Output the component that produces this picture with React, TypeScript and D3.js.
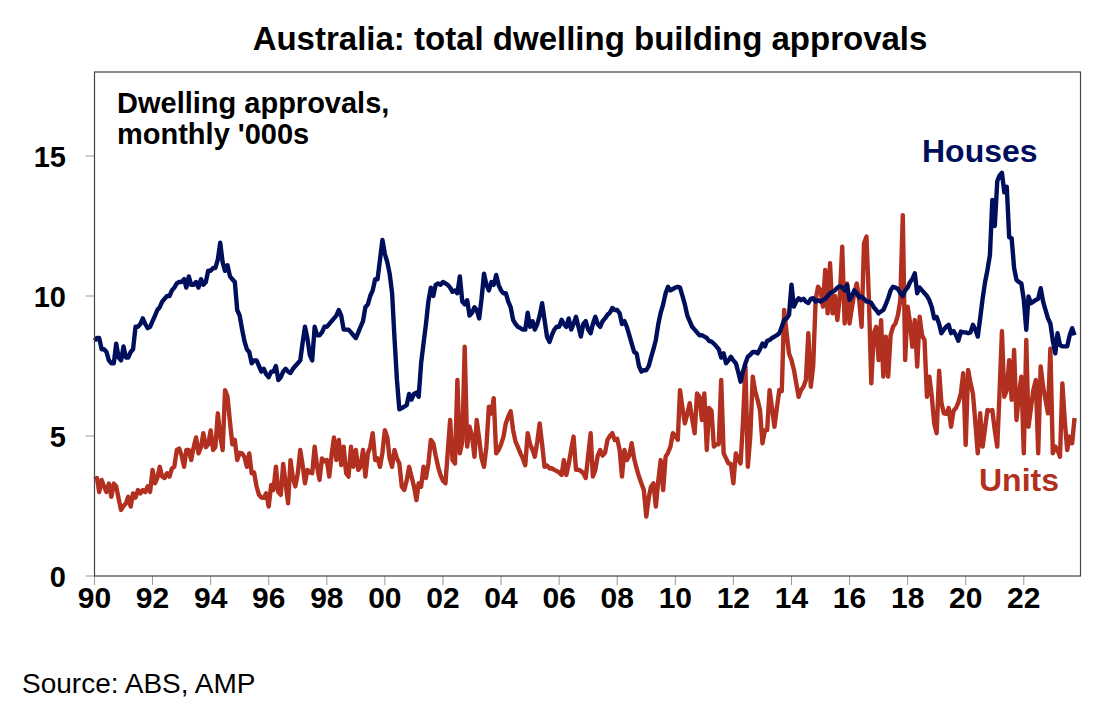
import { useEffect, useRef } from "react";
import * as d3 from "d3";

// monthly, from Jan 1990, '000s
const houses = [
  8.4, 8.5, 8.5, 8.1, 8.1, 8.0, 7.7, 7.6, 7.6, 8.3, 7.8, 7.7,
  8.2, 7.8, 7.8, 8.0, 8.1, 8.9, 8.9, 9.0, 9.2, 9.0, 8.85, 8.9,
  9.1, 9.3, 9.5, 9.6, 9.8, 9.9, 10.0, 10.0, 10.2, 10.3, 10.45, 10.5,
  10.5, 10.6, 10.3, 10.7, 10.4, 10.4, 10.5, 10.3, 10.6, 10.4, 10.5, 10.9,
  10.9, 11.0, 11.0, 11.3, 11.9, 11.2, 10.9, 11.1, 10.7, 10.6, 10.5, 9.5,
  9.3, 8.8, 8.4, 8.1, 8.0, 7.6, 7.7, 7.7, 7.5, 7.3, 7.4, 7.2,
  7.1, 7.3, 7.3, 7.5, 7.0, 7.1, 7.3, 7.4, 7.3, 7.25, 7.4, 7.5,
  7.6, 7.7, 8.3, 8.9, 8.5, 7.9, 7.7, 8.9, 8.6, 8.6, 8.7, 8.9,
  8.9, 9.0, 9.1, 9.2, 9.3, 9.5, 9.3, 8.8, 8.8, 8.8, 8.7, 8.6,
  8.5, 8.7, 8.9, 9.1, 9.6, 9.7, 10.0, 10.2, 10.6, 10.6, 11.3, 12.0,
  11.5, 11.2, 10.8, 10.1, 8.5, 7.0, 5.95, 6.0, 6.05, 6.1, 6.5, 6.3,
  6.5, 6.55, 6.4, 7.6, 8.3, 9.0, 9.8, 10.3, 10.0, 10.4, 10.45, 10.4,
  10.5, 10.45, 10.4, 10.3, 10.15, 10.2, 10.1, 10.7, 9.8, 9.7, 9.85, 9.3,
  9.4, 9.6, 9.5, 9.2, 9.9, 10.8, 10.4, 10.2, 10.5, 10.4, 10.75, 10.4,
  10.2, 10.1, 10.1, 9.8, 9.6, 9.15, 9.0, 8.9, 8.85, 8.8, 8.8, 9.4,
  8.9, 9.1, 8.8, 9.0, 9.3, 9.74, 9.15, 8.55, 8.36, 8.6, 8.8, 8.9,
  8.9, 9.15, 9.0, 8.9, 9.2, 8.8, 9.0, 9.26, 8.9, 8.55, 9.0, 9.1,
  8.8, 8.67, 9.0, 9.26, 9.0, 8.9, 9.1, 9.2, 9.33, 9.4, 9.57, 9.5,
  9.5, 9.38, 9.0, 9.1, 8.9, 8.6, 8.31, 8.0, 7.95, 7.5, 7.3, 7.35,
  7.35, 7.5, 7.8, 8.1, 8.43, 9.0, 9.4, 9.7, 10.1, 10.33, 10.2, 10.25,
  10.3, 10.33, 10.3, 10.0, 9.7, 9.3, 9.1, 8.9, 8.8, 8.7, 8.6, 8.6,
  8.55, 8.5, 8.4, 8.37, 8.3, 8.2, 8.1, 7.8, 7.95, 7.6, 7.7, 7.83,
  7.7, 7.6, 7.3, 6.94, 7.3, 7.6, 7.83, 7.9, 8.0, 8.0, 7.95, 8.1,
  8.3, 8.2, 8.4, 8.43, 8.5, 8.55, 8.6, 8.67, 8.9, 9.14, 9.2, 9.32,
  10.4, 9.62, 9.8, 9.92, 9.85, 9.9, 9.8, 9.75, 9.9, 9.92, 9.8, 9.85,
  9.8, 9.85, 9.9, 10.0, 10.1, 10.15, 10.2, 10.3, 10.35, 10.3, 10.2, 10.39,
  9.86, 10.0, 10.2, 10.1, 9.95, 9.98, 9.9, 9.8, 9.8, 9.75, 9.6, 9.5,
  9.38, 9.45, 9.5, 9.7, 9.92, 10.2, 10.33, 10.3, 10.25, 10.1, 10.0, 10.2,
  10.3, 10.5, 10.6, 10.81, 10.1, 10.3, 10.2, 10.1, 10.0, 9.85, 9.6, 9.2,
  9.25, 9.0, 8.67, 8.8, 8.9, 8.97, 8.67, 8.75, 8.6, 8.4, 8.73, 8.7,
  8.7, 8.67, 8.7, 8.97, 8.8, 8.55, 9.2, 9.9, 10.5, 10.93, 11.47, 13.43,
  12.5, 14.1, 14.3, 14.4, 13.7, 13.9, 12.1, 12.06, 11.0, 10.57, 10.5, 10.45,
  9.86, 8.79, 9.98, 9.74, 9.8, 9.86, 9.9, 10.28, 9.8, 9.5, 9.2, 9.02,
  8.4, 7.95, 8.67, 8.25, 8.2, 8.2, 8.2, 8.6, 8.85, 8.6,
];

const units = [
  3.45, 3.5, 3.0, 3.43, 3.2, 3.0, 3.3, 2.83, 3.3, 3.2, 2.75, 2.36,
  2.5, 2.6, 2.83, 2.48, 2.95, 2.8, 3.07, 2.95, 3.07, 3.0, 3.2, 3.0,
  3.79, 3.31, 3.5, 3.9, 3.55, 3.5, 3.67, 3.55, 3.84, 3.9, 4.5, 4.55,
  4.3, 3.9, 4.5, 4.5, 4.14, 4.6, 4.95, 4.38, 4.6, 5.1, 4.6, 4.7,
  5.2, 4.5, 4.6, 5.81, 5.0, 4.5, 6.64, 6.4, 5.5, 4.7, 4.86, 4.14,
  4.4, 4.38, 4.26, 3.9, 4.38, 3.67, 3.7, 3.2, 2.9, 2.8, 2.79, 2.95,
  2.48, 3.25, 3.07, 3.9, 3.0, 2.9, 4.0, 3.3, 2.6, 4.14, 3.5, 3.2,
  3.67, 4.5, 4.0, 3.31, 3.79, 3.7, 3.67, 4.62, 3.9, 3.43, 4.2, 4.1,
  4.14, 3.55, 4.3, 4.95, 4.14, 4.86, 3.96, 4.62, 3.67, 3.55, 4.62, 3.9,
  4.5, 3.79, 3.9, 4.5, 3.55, 4.38, 4.6, 5.1, 4.14, 4.2, 3.9, 4.4,
  5.21, 4.95, 4.2, 3.9, 4.5, 4.2, 4.02, 3.19, 3.07, 3.4, 3.9, 3.55,
  3.2, 2.71, 3.31, 3.19, 3.9, 3.5, 4.0, 4.86, 4.74, 4.3, 3.9, 3.6,
  3.4, 3.31, 4.4, 5.57, 4.14, 4.02, 7.0, 4.38, 4.8, 8.19, 4.62, 5.33,
  5.0, 4.26, 5.57, 4.9, 4.2, 3.9, 4.62, 6.05, 5.8, 6.35, 4.38, 4.5,
  4.7, 4.98, 5.45, 5.7, 5.88, 5.21, 4.8, 4.6, 4.38, 4.2, 3.96, 5.1,
  4.7, 4.5, 4.26, 4.8, 5.45, 4.7, 3.9, 3.95, 3.84, 3.85, 3.79, 3.75,
  3.7, 3.61, 4.14, 3.61, 4.0, 4.5, 4.98, 3.79, 3.8, 3.75, 3.67, 3.5,
  4.3, 5.1, 3.55, 3.79, 4.3, 4.5, 4.3, 4.4, 4.86, 5.0, 5.1, 4.86,
  4.9, 4.5, 3.55, 4.5, 4.14, 4.3, 4.74, 4.2, 3.84, 3.55, 3.3, 3.07,
  2.12, 2.8, 3.19, 3.31, 2.48, 3.4, 4.14, 3.07, 4.26, 4.4, 4.62, 5.1,
  5.0, 4.86, 6.64, 6.0, 5.45, 5.8, 6.17, 5.6, 5.1, 6.52, 6.4, 5.57,
  6.52, 4.5, 6.0, 5.9, 4.62, 4.7, 4.7, 7.0, 4.38, 4.2, 4.02, 4.0,
  3.31, 4.38, 4.2, 4.02, 5.5, 7.48, 3.9, 5.0, 7.12, 6.6, 6.29, 5.93,
  4.74, 5.21, 5.21, 6.64, 6.0, 5.33, 6.0, 6.64, 6.6, 9.5, 8.67, 7.95,
  7.71, 7.36, 6.9, 6.4, 6.64, 6.76, 7.0, 8.67, 6.76, 7.5, 9.86, 10.33,
  10.21, 9.62, 10.93, 9.38, 11.17, 9.38, 10.0, 9.14, 10.0, 11.76, 9.02, 10.45,
  9.02, 9.6, 10.1, 10.45, 9.86, 8.9, 11.88, 12.12, 9.86, 6.88, 8.67, 8.9,
  7.71, 9.14, 7.12, 8.55, 7.12, 8.6, 8.9, 9.02, 9.32, 9.86, 12.89, 7.71,
  9.62, 9.02, 8.19, 9.14, 7.48, 9.26, 8.6, 8.43, 6.4, 7.12, 6.4, 5.45,
  5.1, 7.33, 6.2, 5.81, 5.79, 6.0, 5.33, 5.9, 6.0, 6.2, 6.52, 7.24,
  4.68, 7.36, 6.9, 6.52, 5.5, 4.38, 5.81, 4.62, 5.3, 5.93, 5.9, 5.93,
  5.2, 4.62, 6.5, 8.74, 6.4, 6.64, 7.71, 6.29, 8.07, 5.57, 6.5, 7.12,
  4.38, 8.43, 5.33, 6.0, 6.64, 7.0, 4.38, 7.48, 6.76, 6.3, 5.81, 8.12,
  4.38, 4.62, 4.5, 4.26, 6.88, 5.5, 4.5, 4.98, 4.74, 5.64,
];

const tickYears = d3.range(1990, 2023, 2);
const yTicks = [0, 5, 10, 15];

const WIDTH = 1120;
const HEIGHT = 717;
const FONT = "'Liberation Sans', Arial, sans-serif";
const HOUSE_COLOR = "#000f5c";
const UNIT_COLOR = "#b23020";

const App = () => {
  const ref = useRef<SVGSVGElement>(null);

  useEffect(() => {
    if (!ref.current) return;
    const svg = d3.select(ref.current);
    svg.selectAll("*").remove();

    const left = 94.5;
    const right = 1080.5;
    const top = 72;
    const bottom = 576;

    const x = d3
      .scaleTime()
      .domain([new Date(1990, 0, 1), new Date(2023, 11, 15)])
      .range([left, right]);
    const y = d3.scaleLinear().domain([0, 18]).range([bottom, top]);

    svg
      .append("rect")
      .attr("width", WIDTH)
      .attr("height", HEIGHT)
      .attr("fill", "#fff");

    // Title
    svg
      .append("text")
      .attr("x", 590)
      .attr("y", 50)
      .attr("text-anchor", "middle")
      .style("font-family", FONT)
      .style("font-size", "33px")
      .style("font-weight", "bold")
      .text("Australia: total dwelling building approvals");

    // y ticks + labels
    svg
      .selectAll(".ytick")
      .data(yTicks)
      .enter()
      .append("line")
      .attr("x1", left - 9)
      .attr("x2", left)
      .attr("y1", (d) => y(d))
      .attr("y2", (d) => y(d))
      .attr("stroke", "#999")
      .attr("stroke-width", 1);

    svg
      .selectAll(".ylabel")
      .data(yTicks)
      .enter()
      .append("text")
      .attr("x", 66)
      .attr("y", (d) => y(d) + 10.5)
      .attr("text-anchor", "end")
      .style("font-family", FONT)
      .style("font-size", "29px")
      .style("font-weight", "bold")
      .text((d) => d);

    // x ticks + labels
    svg
      .selectAll(".xtick")
      .data(tickYears)
      .enter()
      .append("line")
      .attr("x1", (d) => x(new Date(d, 0, 1)))
      .attr("x2", (d) => x(new Date(d, 0, 1)))
      .attr("y1", bottom)
      .attr("y2", bottom + 9)
      .attr("stroke", "#999")
      .attr("stroke-width", 1);

    svg
      .selectAll(".xlabel")
      .data(tickYears)
      .enter()
      .append("text")
      .attr("x", (d) => x(new Date(d, 0, 1)))
      .attr("y", 608)
      .attr("text-anchor", "middle")
      .style("font-family", FONT)
      .style("font-size", "30px")
      .style("font-weight", "bold")
      .text((d) => String(d % 100).padStart(2, "0"));

    // Lines
    const line = d3
      .line<number>()
      .x((_, i) => x(new Date(1990, i, 1)))
      .y((d) => y(d));

    svg
      .append("path")
      .datum(units)
      .attr("d", line)
      .attr("fill", "none")
      .attr("stroke", UNIT_COLOR)
      .attr("stroke-width", 4.4)
      .attr("stroke-linejoin", "round");

    svg
      .append("path")
      .datum(houses)
      .attr("d", line)
      .attr("fill", "none")
      .attr("stroke", HOUSE_COLOR)
      .attr("stroke-width", 4.4)
      .attr("stroke-linejoin", "round");

    // Frame
    svg
      .append("rect")
      .attr("x", left)
      .attr("y", top)
      .attr("width", right - left)
      .attr("height", bottom - top)
      .attr("fill", "none")
      .attr("stroke", "#444")
      .attr("stroke-width", 1.2);

    // Annotations
    const note = svg
      .append("text")
      .style("font-family", FONT)
      .style("font-size", "29px")
      .style("font-weight", "bold");
    note.append("tspan").attr("x", 117).attr("y", 113).text("Dwelling approvals,");
    note.append("tspan").attr("x", 117).attr("y", 144).text("monthly '000s");

    svg
      .append("text")
      .attr("x", 922)
      .attr("y", 162)
      .attr("fill", HOUSE_COLOR)
      .style("font-family", FONT)
      .style("font-size", "32px")
      .style("font-weight", "bold")
      .text("Houses");

    svg
      .append("text")
      .attr("x", 979)
      .attr("y", 491)
      .attr("fill", UNIT_COLOR)
      .style("font-family", FONT)
      .style("font-size", "32px")
      .style("font-weight", "bold")
      .text("Units");

    svg
      .append("text")
      .attr("x", 22)
      .attr("y", 693)
      .style("font-family", FONT)
      .style("font-size", "28px")
      .text("Source: ABS, AMP");
  }, []);

  return (
    <div style={{ position: "absolute", left: 0, top: 0 }}>
      <svg ref={ref} width={WIDTH} height={HEIGHT} style={{ display: "block" }} />
    </div>
  );
};

export default App;
